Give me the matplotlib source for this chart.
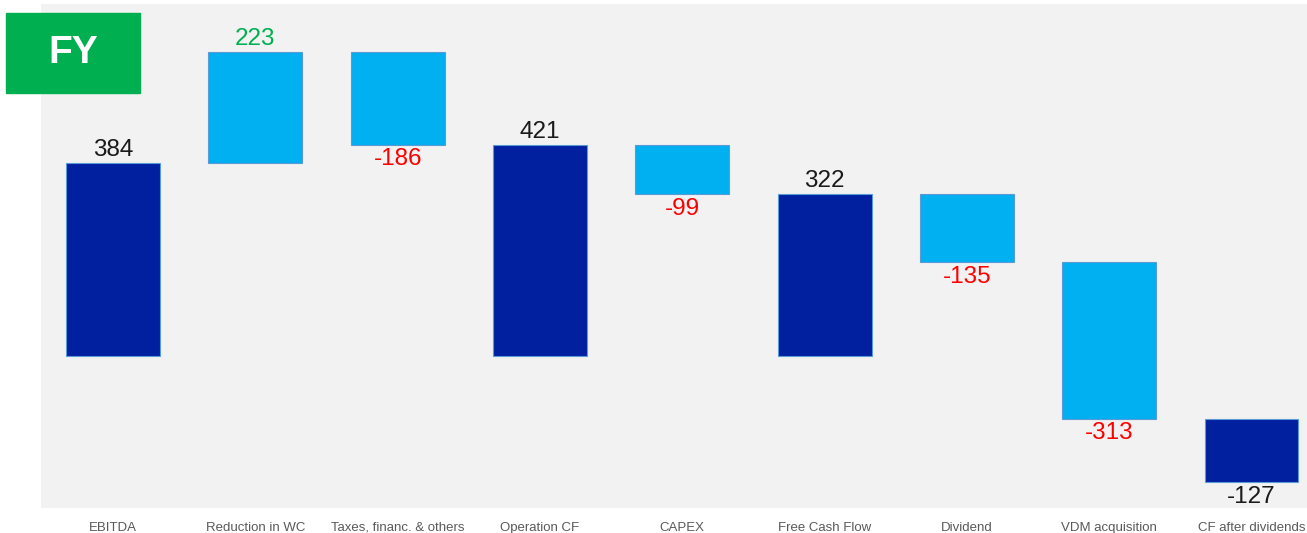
import matplotlib.pyplot as plt

# Datos del waterfall
categories = ['EBITDA', 'Reduction in WC', 'Taxes, financ. & others', 'Operation CF',
              'CAPEX', 'Free Cash Flow', 'Dividend', 'VDM acquisition', 'CF after dividends']
values = [384, 223, -186, 421, -99, 322, -135, -313, -127]
is_total = [True, False, False, True, False, True, False, False, True]

dark_blue = '#0020A0'
light_blue = '#00B0F0'

plt.rcParams['font.family'] = ['Liberation Sans', 'DejaVu Sans']

fig = plt.figure(figsize=(13.07, 5.33), dpi=100)
ax = fig.add_axes([41 / 1307, 25 / 533, 1 - 41 / 1307, 504 / 533])
ax.set_facecolor('#F2F2F2')

running = 0
for i, (v, tot) in enumerate(zip(values, is_total)):
    if tot and v >= 0:
        bottom = 0
        running = v
    else:
        bottom = running
        if not tot:
            running += v
    color = dark_blue if tot else light_blue
    ax.bar(i, v, bottom=bottom, width=0.66, color=color, edgecolor='#5B9BD5', linewidth=0.8)

    if tot:
        txt_color = '#1A1A1A'
    elif v > 0:
        txt_color = '#00B050'
    else:
        txt_color = '#FF0000'
    end = bottom + v
    if v > 0:
        ax.text(i, end + 4, str(v), ha='center', va='bottom', fontsize=17.5, color=txt_color)
    else:
        ax.text(i, end - 7, str(v), ha='center', va='top', fontsize=17.5, color=txt_color)

ax.set_xlim(-0.507, 8.39)
ax.set_ylim(-304, 702)
ax.set_xticks(range(len(categories)))
ax.set_xticklabels(categories, fontsize=9.5, color='#595959')
ax.tick_params(axis='x', length=0, pad=10)
ax.set_yticks([])
for s in ax.spines.values():
    s.set_visible(False)

# Recuadro FY
fig.patches.append(plt.Rectangle((6 / 1307, 1 - 93 / 533), 134 / 1307, 80 / 533,
                                 transform=fig.transFigure, color='#00AF50', zorder=5))
fig.text(73 / 1307, 1 - 53 / 533, 'FY', ha='center', va='center', fontsize=28,
         fontweight='bold', color='white', zorder=6)

fig.savefig('out.png', dpi=100)
